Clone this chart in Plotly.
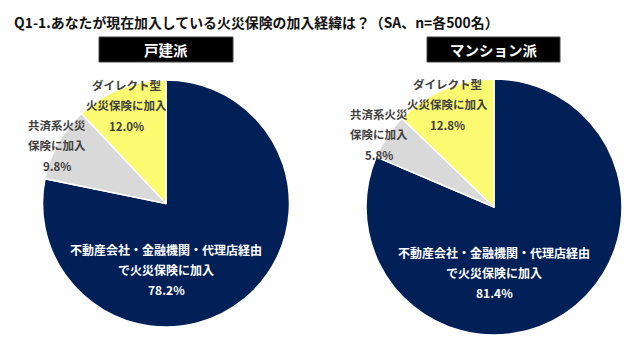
import plotly.graph_objects as go

# The page adds an 8px body margin, so the figure is drawn 8px in from the window edge.
OFF = 8
W, H = 640 - 2 * OFF, 360 - 2 * OFF

title_text = "Q1-1.あなたが現在加入している火災保険の加入経緯は？（SA、n=各500名）"
panel_titles = ["戸建派", "マンション派"]
categories = ["不動産会社・金融機関・代理店経由<br>で火災保険に加入",
              "共済系火災<br>保険に加入",
              "ダイレクト型<br>火災保険に加入"]
values_house = [78.2, 9.8, 12.0]
values_mansion = [81.4, 5.8, 12.8]
colors = ["#022058", "#d9d9d9", "#fbfa70"]

FONT = "Noto Sans CJK JP"

def px_x(x):
    return (x - OFF) / W

def px_y(y):
    return 1 - (y - OFF) / H

fig = go.Figure()

# pie geometry in window pixels: (cx, cy, r)
geo = [(166, 203.5, 123.5), (494, 207, 128)]
for vals, (cx, cy, r) in zip([values_house, values_mansion], geo):
    fig.add_trace(go.Pie(
        values=vals, labels=categories, sort=False, direction="clockwise",
        rotation=0, textinfo="none", hoverinfo="label+value",
        marker=dict(colors=colors, line=dict(color="white", width=1.5)),
        domain=dict(x=[px_x(cx - r), px_x(cx + r)], y=[px_y(cy + r), px_y(cy - r)]),
        showlegend=False,
    ))

annotations = []
shapes = []

# title
annotations.append(dict(text="<b>" + title_text + "</b>", x=px_x(12), y=px_y(22),
                        xref="paper", yref="paper", xanchor="left", yanchor="middle",
                        showarrow=False, font=dict(family=FONT, size=13.9, color="#111111")))

# panel header boxes
boxes = [(99, 233), (427, 560)]
for (x0, x1), t in zip(boxes, panel_titles):
    shapes.append(dict(type="rect", xref="paper", yref="paper",
                       x0=px_x(x0), x1=px_x(x1), y0=px_y(62), y1=px_y(37),
                       fillcolor="black", line=dict(color="#444444", width=1)))
    annotations.append(dict(text="<b>" + t + "</b>", x=px_x((x0 + x1) / 2), y=px_y(49.5),
                            xref="paper", yref="paper", xanchor="center", yanchor="middle",
                            showarrow=False, font=dict(family=FONT, size=14.5, color="white")))

# slice labels: (center x, first line y) for each category, per pie
label_pos = [
    [(166, 249), (57, 125), (126, 85)],
    [(494, 252), (379, 114), (447, 84)],
]
label_colors = ["white", "#404040", "#404040"]
label_sizes = [12, 11.5, 11.5]
for vals, positions in zip([values_house, values_mansion], label_pos):
    for cat, v, (lx, ly), col, sz in zip(categories, vals, positions, label_colors, label_sizes):
        lines = cat.split("<br>") + [f"{v:.1f}%"]
        for i, ln in enumerate(lines):
            annotations.append(dict(text="<b>" + ln + "</b>", x=px_x(lx), y=px_y(ly + i * 20.3),
                                    xref="paper", yref="paper", xanchor="center", yanchor="middle",
                                    showarrow=False,
                                    font=dict(family=FONT, size=sz, color=col)))

fig.update_layout(
    width=W, height=H, margin=dict(l=0, r=0, t=0, b=0),
    paper_bgcolor="white", plot_bgcolor="white",
    annotations=annotations, shapes=shapes,
)

fig.write_html("out.html")
